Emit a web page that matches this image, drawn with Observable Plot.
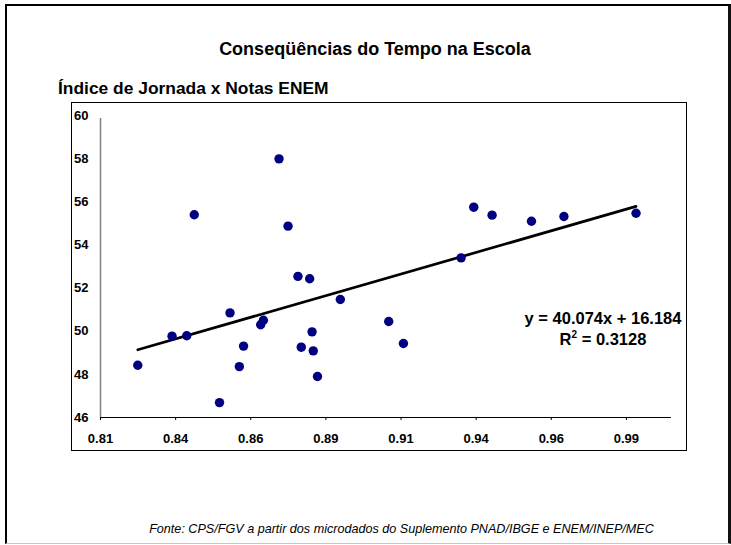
<!DOCTYPE html>
<html>
<head>
<meta charset="utf-8">
<script src="https://cdn.jsdelivr.net/npm/d3@7"></script>
<script src="https://cdn.jsdelivr.net/npm/@observablehq/plot@0.6"></script>
<style>
  html, body { margin: 0; padding: 0; background: #fff; }
  #page { position: relative; width: 731px; height: 545px; overflow: hidden; font-family: "Liberation Sans", Arial, sans-serif; }
  #frame { position: absolute; left: 5px; top: 4px; width: 721px; height: 537px;
           border-left: 2px solid #000; border-top: 2px solid #000; border-right: 3px solid #111; border-bottom: 1px solid #c8c8c8; }
  #title { position: absolute; left: 0; width: 750px; top: 39px; text-align: center; font-weight: bold; font-size: 18px; line-height: 20px; }
  #subtitle { position: absolute; left: 58px; top: 78px; font-weight: bold; font-size: 17.4px; line-height: 20px; }
  #chart { position: absolute; left: 71px; top: 102px; border: 1px solid #000; width: 614px; height: 347px; }
  #chart svg { display: block; }
  #eq { position: absolute; left: 503px; width: 200px; top: 308px; text-align: center; font-weight: bold; font-size: 16.5px; line-height: 21px; }
  #eq sup { font-size: 10px; vertical-align: 0; position: relative; top: -7px; }
  #caption { position: absolute; left: 0; width: 803px; top: 522px; text-align: center; font-style: italic; font-size: 12.6px; line-height: 14px; }
</style>
</head>
<body>
<div id="page">
  <div id="frame"></div>
  <div id="title">Conseqüências do Tempo na Escola</div>
  <div id="subtitle">Índice de Jornada x Notas ENEM</div>
  <div id="chart"></div>
  <div id="eq">y = 40.074x + 16.184<br>R<sup>2</sup> = 0.3128</div>
  <div id="caption">Fonte: CPS/FGV a partir dos microdados do Suplemento PNAD/IBGE e ENEM/INEP/MEC</div>
</div>
<script>
// Data
const indiceJornada = [0.8224,0.8338,0.8387,0.8412,0.8496,0.8531,0.8562,0.8576,0.8633,0.8642,0.8694,0.8724,0.8757,0.8768,0.8796,0.8804,0.8808,0.8822,0.8898,0.9059,0.9108,0.9300,0.9342,0.9403,0.9534,0.9642,0.9882];
const notasEnem    = [48.42,49.77,49.79,55.40,46.69,50.85,48.36,49.31,50.30,50.51,57.99,54.87,52.54,49.26,52.43,49.97,49.09,47.90,51.47,50.45,49.43,53.40,55.75,55.38,55.10,55.32,55.47];
const slope = 40.074;
const intercept = 16.184;
const xDomain = [0.81, 1.0];
const yDomain = [46, 60];
const xTicks = [0.81, 0.835, 0.86, 0.885, 0.91, 0.935, 0.96, 0.985];
const xTickLabels = ["0.81","0.84","0.86","0.89","0.91","0.94","0.96","0.99"];
const yTicks = [46, 48, 50, 52, 54, 56, 58, 60];

const points = indiceJornada.map((x, i) => ({x, y: notasEnem[i]}));
const xMin = d3.min(indiceJornada), xMax = d3.max(indiceJornada);
const trend = [xMin, xMax].map(x => ({x, y: slope * x + intercept}));

const chart = Plot.plot({
  width: 614,
  height: 347,
  marginLeft: 28,
  marginRight: 15,
  marginTop: 12,
  marginBottom: 33,
  x: {domain: xDomain},
  y: {domain: yDomain},
  style: {fontFamily: "'Liberation Sans', Arial, sans-serif", fontSize: "13px", fontWeight: "bold", color: "#000", background: "#fff"},
  marks: [
    Plot.ruleX([xDomain[0]], {y1: yDomain[0], y2: yDomain[1], stroke: "#808080", strokeWidth: 1.5, insetBottom: -3}),
    Plot.ruleY([yDomain[0]], {x1: xDomain[0], x2: xDomain[1], stroke: "#000", strokeWidth: 1}),
    Plot.axisY({ticks: yTicks, tickSize: 0, tickPadding: 12, label: null, fontWeight: "bold", fontSize: 13}),
    Plot.axisX({ticks: xTicks, tickFormat: (d, i) => xTickLabels[i], tickSize: 3, tickPadding: 13, label: null, fontWeight: "bold", fontSize: 13}),
    Plot.line(trend, {x: "x", y: "y", stroke: "#000", strokeWidth: 2.7}),
    Plot.dot(points, {x: "x", y: "y", r: 4.7, fill: "#000080", stroke: "none"})
  ]
});
document.getElementById("chart").appendChild(chart);
</script>
</body>
</html>
